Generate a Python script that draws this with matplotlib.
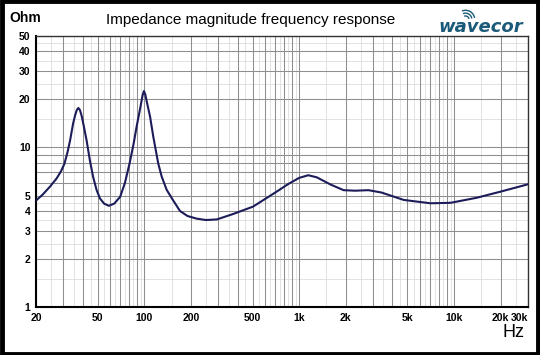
import matplotlib
matplotlib.use("Agg")
import matplotlib.pyplot as plt
import numpy as np
from matplotlib.patches import Rectangle, Arc

plt.rcParams['font.family'] = ['Liberation Sans', 'DejaVu Sans']

# Impedance data (Hz, Ohm)
freq = [20, 22, 24.6, 27.2, 29.0, 30.5, 32.0, 33.2, 34.7, 35.7, 36.6, 37.5, 38.4, 39.4, 40.4,
        42.4, 44.5, 46.7, 49.2, 51.7, 55, 59.0, 64, 69.9, 75, 80.4, 85.4, 89.2, 94.5,
        97.5, 99.5, 101.5, 104, 109, 114.3, 123, 129.6, 139.6, 153, 170, 190, 218, 250,
        294, 375, 504, 716, 850, 1000, 1145, 1300, 1600, 1936, 2300, 2800, 3400, 4730,
        7035, 9500, 14000, 20000, 30000]
impedance = [4.65, 5.05, 5.68, 6.41, 7.1, 7.9, 9.4, 11.1, 14.1, 15.8, 17.1, 17.7, 17.2, 15.8, 14.1,
             11.1, 8.35, 6.56, 5.42, 4.80, 4.45, 4.31, 4.45, 4.91, 6.0, 7.96, 10.6, 13.5, 18.0,
             21.2, 22.6, 21.5, 19.2, 15.6, 11.7, 7.96, 6.56, 5.42, 4.69, 4.0, 3.72, 3.58, 3.51,
             3.54, 3.83, 4.26, 5.29, 5.9, 6.45, 6.70, 6.50, 5.85, 5.40, 5.36, 5.40, 5.22, 4.69,
             4.47, 4.50, 4.84, 5.29, 5.88]

xticks = [20, 50, 100, 200, 500, 1000, 2000, 5000, 10000, 20000, 30000]
xticklabels = ['20', '50', '100', '200', '500', '1k', '2k', '5k', '10k', '20k', '30k']
yticks = [1, 2, 3, 4, 5, 10, 20, 30, 40, 50]

fig = plt.figure(figsize=(5.4, 3.55), dpi=100)
ax = fig.add_axes([0.0667, 0.1352, 0.911, 0.7634])
ax.set_xscale('log')
ax.set_yscale('log')
ax.set_xlim(20, 30000)
ax.set_ylim(1, 50)

# grid lines
major_x = []
minor_x = []
for dec in [10, 100, 1000, 10000]:
    for m in range(1, 10):
        v = m * dec
        if 20 <= v <= 30000:
            major_x.append(v)
        h = (m + 0.5) * dec
        if 20 < h < 30000:
            minor_x.append(h)
for v in minor_x:
    ax.axvline(v, color='#dddddd', lw=0.6, zorder=1)
for v in major_x:
    ax.axvline(v, color='#8f8f8f', lw=0.75, zorder=2)
major_y = [1, 2, 3, 4, 5, 6, 7, 8, 9, 10, 20, 30, 40, 50]
minor_y = [1.5, 2.5, 3.5, 4.5, 15, 25, 35, 45]
for v in minor_y:
    ax.axhline(v, color='#dddddd', lw=0.6, zorder=1)
for v in major_y:
    ax.axhline(v, color='#8f8f8f', lw=0.75, zorder=2)

ax.plot(freq, impedance, color='#1c1c5a', lw=1.5, zorder=5, solid_joinstyle='round')

ax.set_xticks(xticks)
ax.set_xticklabels(xticklabels, fontsize=7.5, fontweight='bold')
ax.get_xticklabels()[-1].set_horizontalalignment('right')
ax.set_yticks(yticks)
ax.set_yticklabels([str(v) for v in yticks], fontsize=7.5, fontweight='bold')
ax.xaxis.set_minor_locator(matplotlib.ticker.NullLocator())
ax.yaxis.set_minor_locator(matplotlib.ticker.NullLocator())
ax.tick_params(length=0, pad=4)
for s in ['top', 'right']:
    ax.spines[s].set_color('#333333')
    ax.spines[s].set_linewidth(1.0)
for s in ['left', 'bottom']:
    ax.spines[s].set_color('black')
    ax.spines[s].set_linewidth(1.5)

fig.text(0.465, 0.944, 'Impedance magnitude frequency response', ha='center', va='center', fontsize=11)
fig.text(0.018, 0.948, 'Ohm', ha='left', va='center', fontsize=10, fontweight='bold')
fig.text(0.972, 0.062, 'Hz', ha='right', va='center', fontsize=13)
fig.text(0.811, 0.925, 'wavecor', ha='left', va='center', fontsize=13, fontstyle='italic',
         fontweight='bold', color='#1b5a78', family=['DejaVu Sans'])
for r in [0.010, 0.018, 0.026]:
    fig.patches.append(Arc((0.862, 0.945), r * 2 * 355 / 540, r * 2, theta1=15, theta2=105,
                           transform=fig.transFigure, color='#1b5a78', lw=1.0))

fig.patches.append(Rectangle((0.003, 0.004), 0.994, 0.992, transform=fig.transFigure,
                             fill=False, edgecolor='black', lw=3.5))

fig.savefig('out.png', dpi=100)
